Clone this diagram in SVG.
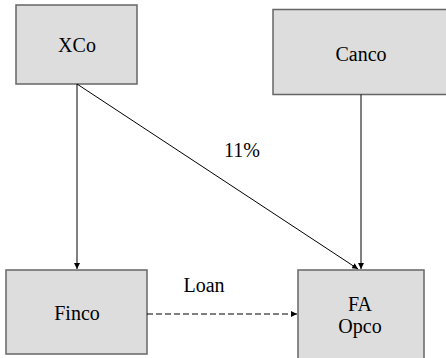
<svg xmlns="http://www.w3.org/2000/svg" width="446" height="358" viewBox="0 0 446 358">
<style>
.box{fill:#dddddd;stroke:#666666;stroke-width:1.5}
.lbl{font-family:'Liberation Serif','Times New Roman',serif;font-size:20px;fill:#000;text-anchor:middle}
.ln{stroke:#000;stroke-width:1;fill:none}
</style>
<defs>
<marker id="ah" viewBox="0 0 10 10" refX="10" refY="5" markerWidth="6" markerHeight="6" markerUnits="userSpaceOnUse" orient="auto">
<path d="M0,0 L10,5 L0,10 z" fill="#000"/>
</marker>
</defs>
<g id="xco"><rect class="box" x="16" y="5" width="121" height="79"/><text class="lbl" x="77" y="52">XCo</text></g>
<g id="canco"><rect class="box" x="273" y="9.5" width="180" height="85"/><text class="lbl" x="361" y="61">Canco</text></g>
<g id="finco"><rect class="box" x="6" y="270" width="141" height="84"/><text class="lbl" x="77" y="320">Finco</text></g>
<g id="faopco"><rect class="box" x="298" y="270" width="126" height="95"/><text class="lbl" x="360" y="311">FA</text><text class="lbl" x="360" y="333">Opco</text></g>
<g id="connectors">
<line class="ln" x1="77" y1="84" x2="77" y2="269" marker-end="url(#ah)"/>
<line class="ln" x1="77" y1="84" x2="358" y2="269" marker-end="url(#ah)"/>
<line class="ln" x1="361" y1="94.5" x2="361" y2="269" marker-end="url(#ah)"/>
<line class="ln" x1="147" y1="314" x2="297" y2="314" stroke-dasharray="6,3" marker-end="url(#ah)"/>
<text class="lbl" x="242" y="157">11%</text>
<text class="lbl" x="204" y="292">Loan</text>
</g>
</svg>
